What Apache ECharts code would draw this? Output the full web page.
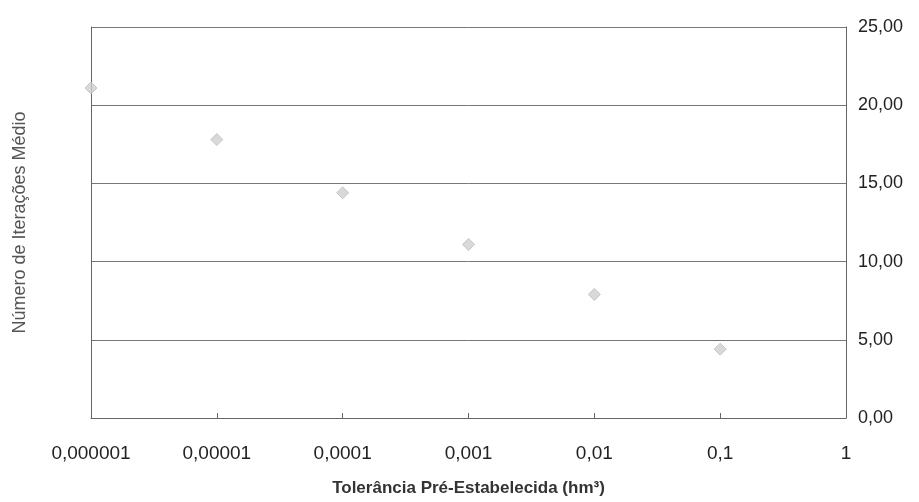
<!DOCTYPE html>
<html>
<head>
<meta charset="utf-8">
<script src="https://cdn.jsdelivr.net/npm/echarts@6/dist/echarts.min.js"></script>
<style>html,body{margin:0;padding:0;background:#fff}#c{width:919px;height:502px}</style>
</head>
<body>
<div id="c"></div>
<script>
const tolerances = [0.000001, 0.00001, 0.0001, 0.001, 0.01, 0.1];
const iterations = [21.1, 17.8, 14.4, 11.1, 7.9, 4.4];
const xTickLabels = ["0,000001", "0,00001", "0,0001", "0,001", "0,01", "0,1", "1"];
const yTickLabels = ["0,00", "5,00", "10,00", "15,00", "20,00", "25,00"];
const xTitle = "Tolerância Pré-Estabelecida (hm³)";
const yTitle = "Número de Iterações Médio";

const chart = echarts.init(document.getElementById('c'), null, {renderer: 'canvas'});
const font = 'Arial, "Liberation Sans", sans-serif';
chart.setOption({
  backgroundColor: '#ffffff',
  animation: false,
  grid: {left: 91, right: 73, top: 27, bottom: 84, containLabel: false, outerBoundsMode: 'none'},
  xAxis: {
    type: 'log', logBase: 10, min: 0.000001, max: 1,
    name: xTitle, nameLocation: 'middle', nameGap: 62,
    nameTextStyle: {fontFamily: font, fontSize: 17, fontWeight: 'bold', color: '#333'},
    axisLine: {show: true, lineStyle: {color: '#666', width: 1}},
    axisTick: {show: true, inside: true, length: 5, lineStyle: {color: '#666'}},
    minorTick: {show: false},
    splitLine: {show: false},
    axisLabel: {
      margin: 26, fontFamily: font, fontSize: 19, color: '#222',
      formatter: function (v, i) { return xTickLabels[Math.round(Math.log10(v)) + 6]; }
    }
  },
  yAxis: [
    {
      type: 'value', position: 'left', min: 0, max: 25, interval: 5,
      name: yTitle, nameLocation: 'middle', nameGap: 62, nameRotate: 90,
      nameTextStyle: {fontFamily: font, fontSize: 18, color: '#555'},
      axisLine: {show: true, lineStyle: {color: '#666', width: 1}},
      axisTick: {show: false},
      axisLabel: {show: false},
      splitLine: {show: false}
    },
    {
      type: 'value', position: 'right', min: 0, max: 25, interval: 5,
      axisLine: {show: true, lineStyle: {color: '#666', width: 1}},
      axisTick: {show: false},
      axisLabel: {
        margin: 12, fontFamily: font, fontSize: 18, color: '#222',
        formatter: function (v) { return yTickLabels[Math.round(v / 5)]; }
      },
      splitLine: {show: true, lineStyle: {color: '#777', width: 1}}
    }
  ],
  series: [{
    type: 'scatter',
    yAxisIndex: 1,
    symbol: 'diamond',
    symbolSize: 12,
    itemStyle: {color: '#cfcfcf', borderColor: '#bdbdbd', borderWidth: 1},
    data: tolerances.map((t, i) => [t, iterations[i]])
  }]
});
</script>
</body>
</html>
